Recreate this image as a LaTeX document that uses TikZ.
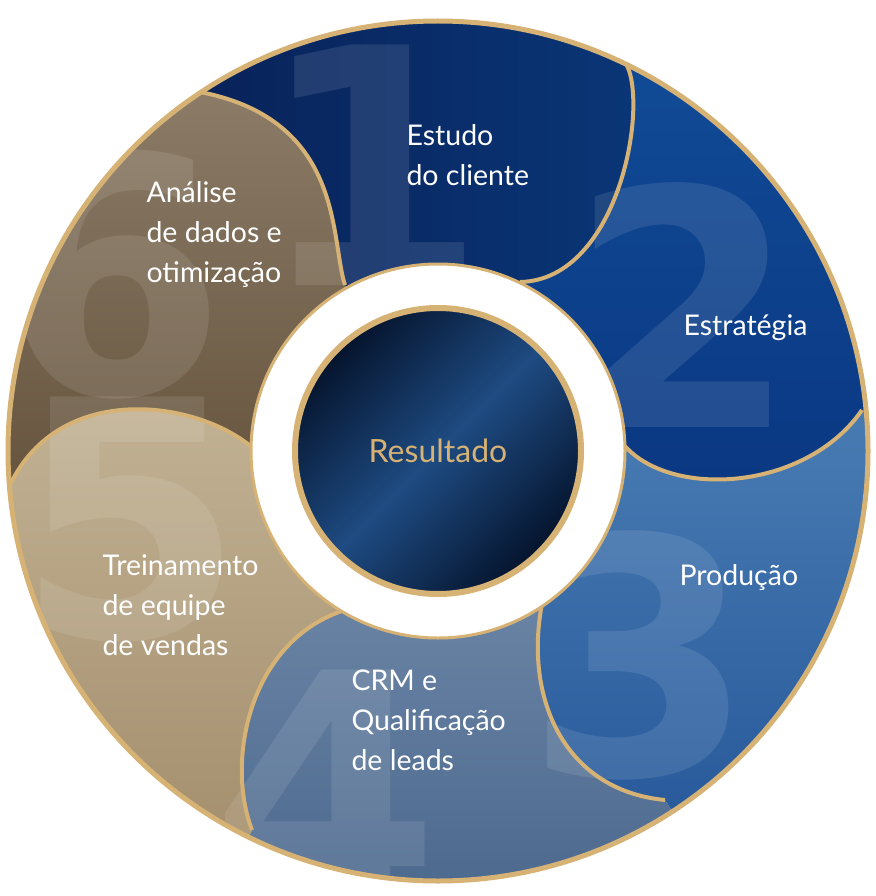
\documentclass[tikz,border=0pt]{standalone}
\usepackage{fontspec}
\setmainfont{Lato}
\newfontfamily\digitfont{DejaVu Sans}
\definecolor{gold}{HTML}{D6B275}
\definecolor{s1a}{RGB}{8,28,80}\definecolor{s1b}{RGB}{10,58,125}
\definecolor{s2a}{RGB}{20,85,160}\definecolor{s2b}{RGB}{10,55,130}
\definecolor{s3a}{RGB}{75,125,180}\definecolor{s3b}{RGB}{25,75,145}
\definecolor{s4a}{RGB}{120,145,175}\definecolor{s4b}{RGB}{60,90,130}
\definecolor{s5a}{RGB}{195,180,150}\definecolor{s5b}{RGB}{150,125,90}
\definecolor{s6a}{RGB}{160,145,125}\definecolor{s6b}{RGB}{100,82,60}
\definecolor{cdark}{RGB}{5,20,45}\definecolor{cmid}{RGB}{30,75,130}
\begin{document}
\begin{tikzpicture}[x=1pt,y=-1pt,
  bnd/.style={draw=gold,line width=4pt},
  lbl/.style={text=white,align=left,anchor=west,font=\fontsize{28.5}{40}\selectfont},
  big/.style={text=white,opacity=0.1,font=\digitfont\bfseries\fontsize{330}{330}\selectfont}]
\useasboundingbox (0,0) rectangle (875,896);
\coordinate (C) at (438,451);
\begin{scope}
\clip (C) circle (430);
\shade[left color=s1a,right color=s1b]
 (C) -- (345,285) .. controls (330,240) and (345,120) .. (200,92) -- (57,-123) -- (737,-171) -- (625,62) .. controls (650,100) and (620,280) .. (520,282) -- cycle;
\shade[top color=s2a,bottom color=s2b]
 (C) -- (520,282) .. controls (620,280) and (650,100) .. (625,62) -- (737,-171) -- (1116,385) -- (862,410) .. controls (800,500) and (640,500) .. (612,425) -- cycle;
\shade[top color=s3a,bottom color=s3b]
 (C) -- (612,425) .. controls (640,500) and (800,500) .. (862,410) -- (1116,385) -- (801,1009) -- (665,800) .. controls (560,790) and (520,690) .. (545,590) -- cycle;
\shade[top color=s4a,bottom color=s4b]
 (C) -- (545,590) .. controls (520,690) and (560,790) .. (665,800) -- (801,1009) -- (140,1057) -- (252,830) .. controls (225,760) and (250,640) .. (345,610) -- cycle;
\shade[top color=s5a,bottom color=s5b]
 (C) -- (345,610) .. controls (250,640) and (225,760) .. (252,830) -- (140,1057) -- (-247,505) -- (10,485) .. controls (60,380) and (200,400) .. (255,450) -- cycle;
\shade[top color=s6a,bottom color=s6b]
 (C) -- (255,450) .. controls (200,400) and (60,380) .. (10,485) -- (-247,505) -- (57,-123) -- (200,92) .. controls (345,120) and (330,240) .. (345,285) -- cycle;
\node[big] (d1) at (372,165) {1};
\node[big] (d2) at (683,305) {2};
\node[big] (d3) at (640,655) {3};
\node[big] (d4) at (325,790) {4};
\node[big] (d5) at (130,520) {5};
\node[big] (d6) at (112,275) {6};
\draw[bnd] (345,285) .. controls (330,240) and (345,120) .. (200,92);
\draw[bnd] (520,282) .. controls (620,280) and (650,100) .. (625,62);
\draw[bnd] (612,425) .. controls (640,500) and (800,500) .. (862,410);
\draw[bnd] (545,590) .. controls (520,690) and (560,790) .. (665,800);
\draw[bnd] (345,610) .. controls (250,640) and (225,760) .. (252,830);
\draw[bnd] (255,450) .. controls (200,400) and (60,380) .. (10,485);
\end{scope}
\draw[gold,line width=5pt] (C) circle (430);
\fill[white,draw=gold,line width=3pt] (C) circle (187);
\shade[left color=cdark,right color=cdark,middle color=cmid,shading angle=45] (C) circle (143);
\draw[gold,line width=6pt] (C) circle (143);
\node[text=gold,font=\fontsize{32}{36}\selectfont] (res) at (C) {Resultado};
\node[lbl] (l1) at (403,155) {Estudo\\do cliente};
\node[lbl] (l2) at (680,328) {Estratégia};
\node[lbl] (l3) at (676,578) {Produção};
\node[lbl] (l4) at (348,720) {CRM e\\Qualificação\\de leads};
\node[lbl] (l5) at (99,605) {Treinamento\\de equipe\\de vendas};
\node[lbl] (l6) at (143,235) {Análise\\de dados e\\otimização};
\end{tikzpicture}
\end{document}
